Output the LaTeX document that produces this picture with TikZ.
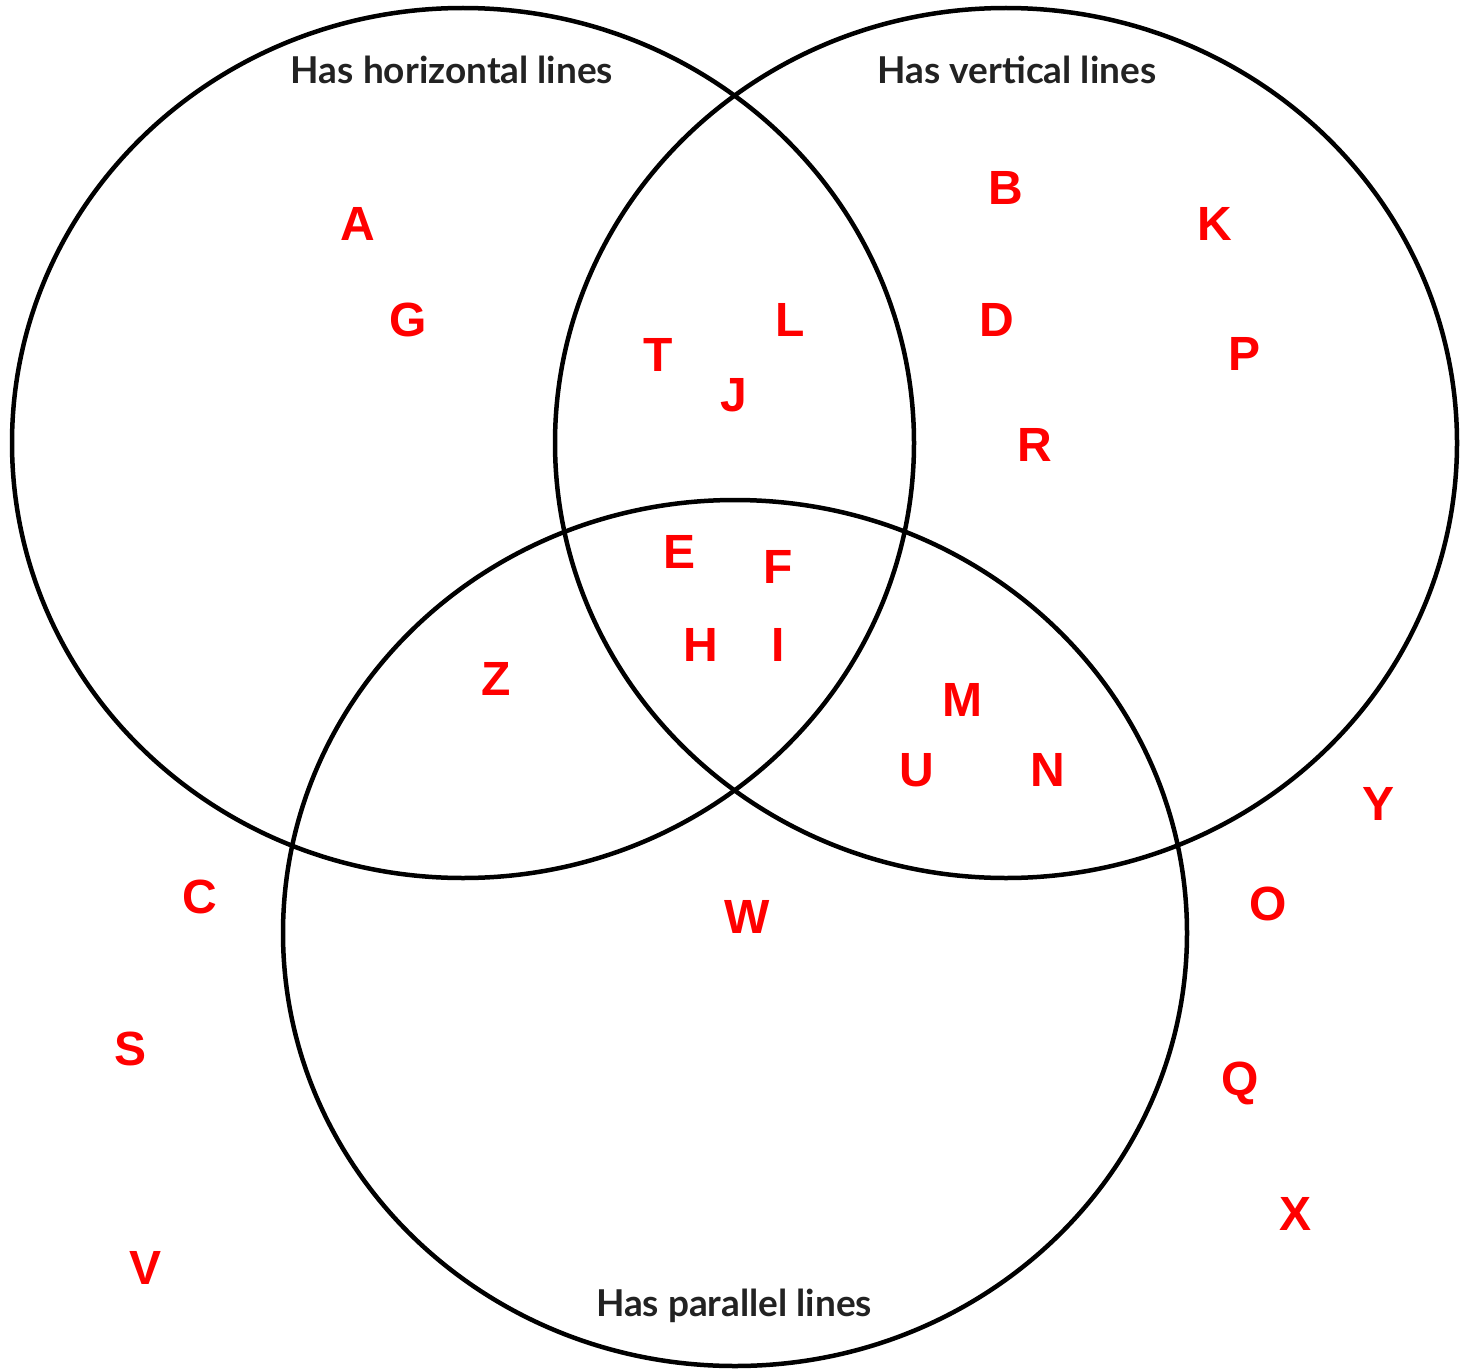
\documentclass[tikz,border=0pt]{standalone}
\usepackage{fontspec}
\setmainfont{Liberation Sans}
\newfontfamily\labelfont{Lato}
\definecolor{lettred}{RGB}{255,0,0}
\definecolor{labgray}{RGB}{34,34,34}
\begin{document}
\begin{tikzpicture}[x=1pt,y=-1pt,
  setline/.style={draw=black,line width=4.5pt},
  lett/.style={text=lettred,font=\fontsize{48}{48}\selectfont\bfseries,inner sep=0pt},
  lab/.style={text=labgray,font=\labelfont\fontsize{37}{37}\selectfont\bfseries,inner sep=0pt}]
\useasboundingbox (0,0) rectangle (1469,1370);
\draw[setline] (463,443) ellipse [x radius=451,y radius=435];
\draw[setline] (1006,443) ellipse [x radius=451,y radius=435];
\draw[setline] (735,933) ellipse [x radius=452,y radius=433];
\node[lab] (hl) at (452,70) {Has horizontal lines};
\node[lab] (vl) at (1017,70) {Has vertical lines};
\node[lab] (pl) at (734,1306) {Has parallel lines};
\node[lett] (A) at (358,224) {A};
\node[lett] (G) at (408,320) {G};
\node[lett] (T) at (658,355) {T};
\node[lett] (L) at (790,320) {L};
\node[lett] (J) at (734,395) {J};
\node[lett] (B) at (1006,188) {B};
\node[lett] (K) at (1215,224) {K};
\node[lett] (D) at (997,320) {D};
\node[lett] (P) at (1244,354) {P};
\node[lett] (R) at (1035,445) {R};
\node[lett] (E) at (679,552) {E};
\node[lett] (F) at (778,567) {F};
\node[lett] (H) at (701,645) {H};
\node[lett] (I) at (778,645) {I};
\node[lett] (Z) at (496,679) {Z};
\node[lett] (M) at (962,700) {M};
\node[lett] (U) at (917,770) {U};
\node[lett] (N) at (1048,770) {N};
\node[lett] (Y) at (1378,804) {Y};
\node[lett] (C) at (200,897) {C};
\node[lett] (W) at (747,917) {W};
\node[lett] (O) at (1268,904) {O};
\node[lett] (S) at (131,1049) {S};
\node[lett] (Q) at (1240,1083) {Q};
\node[lett] (X) at (1295,1214) {X};
\node[lett] (V) at (146,1268) {V};
\end{tikzpicture}
\end{document}
